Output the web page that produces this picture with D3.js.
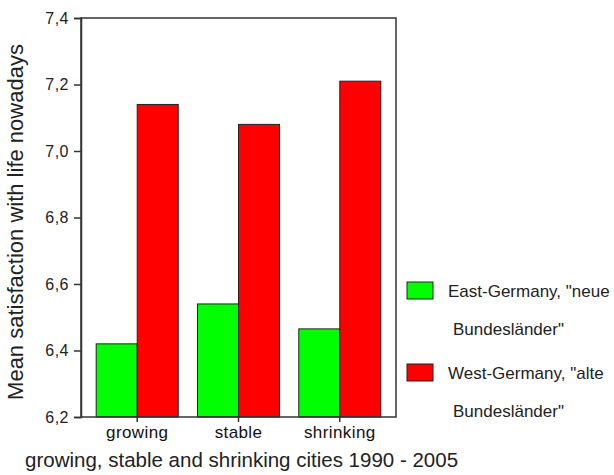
<!DOCTYPE html>
<html><head><meta charset="utf-8">
<script src="https://cdn.jsdelivr.net/npm/d3@7"></script>
<style>body{margin:0;background:#fff;} svg{display:block;font-family:"Liberation Sans",Arial,sans-serif;}</style>
</head><body>
<script>
const categories = ["growing", "stable", "shrinking"];
const seriesNames = ["East-Germany, \"neue Bundesländer\"", "West-Germany, \"alte Bundesländer\""];
const eastValues = [6.42, 6.54, 6.465];
const westValues = [7.14, 7.08, 7.21];
const yTicks = [6.2, 6.4, 6.6, 6.8, 7.0, 7.2, 7.4];
const colors = ["#00ff00", "#ff0000"];

const W = 614, H = 475;
const pLeft = 81, pRight = 396, pTop = 18, pBottom = 417;
const FONT = "'Liberation Sans', Arial, sans-serif";
const svg = d3.select("body").append("svg").attr("width", W).attr("height", H);

const y = d3.scaleLinear().domain([6.2, 7.4]).range([pBottom, pTop]);
const x0 = d3.scaleBand().domain(categories).range([pLeft, pRight]).paddingInner(0.19).paddingOuter(0.15);
const x1 = d3.scaleBand().domain([0, 1]).range([0, x0.bandwidth()]);

const data = categories.map((c, i) => ({cat: c, vals: [eastValues[i], westValues[i]]}));

// bars
const g = svg.append("g");
data.forEach(d => {
  d.vals.forEach((v, j) => {
    g.append("rect")
      .attr("x", x0(d.cat) + x1(j))
      .attr("y", y(v))
      .attr("width", x1.bandwidth())
      .attr("height", y(6.2) - y(v))
      .attr("fill", colors[j])
      .attr("stroke", "#222")
      .attr("stroke-width", 1);
  });
});

// frame
svg.append("rect").attr("x", pLeft).attr("y", pTop).attr("width", pRight - pLeft).attr("height", pBottom - pTop)
  .attr("fill", "none").attr("stroke", "#333").attr("stroke-width", 1.5);

// y axis
const yAxis = d3.axisLeft(y).tickValues(yTicks).tickSize(7).tickPadding(5)
  .tickFormat(d => d3.format(".1f")(d).replace(".", ","));
const ya = svg.append("g").attr("transform", `translate(${pLeft},0)`).call(yAxis);
ya.select(".domain").attr("stroke", "#333").attr("stroke-width", 1.5);
ya.selectAll(".tick line").attr("stroke", "#333").attr("stroke-width", 1.5);
ya.selectAll(".tick text").attr("font-size", 16).attr("letter-spacing", 0.5).attr("fill", "#222").style("font-family", FONT);

// x axis
const xAxis = d3.axisBottom(x0).tickSize(6).tickPadding(3);
const xa = svg.append("g").attr("transform", `translate(0,${pBottom})`).call(xAxis);
xa.select(".domain").remove();
xa.selectAll(".tick line").attr("stroke", "#333").attr("stroke-width", 1.5).attr("y2", 5);
xa.selectAll(".tick text").attr("font-size", 17).attr("letter-spacing", 0.4).attr("fill", "#111").style("font-family", FONT);

// axis titles
svg.append("text").attr("transform", `translate(23,222) rotate(-90)`)
  .attr("text-anchor", "middle").attr("font-size", 22).attr("fill", "#222")
  .text("Mean satisfaction with life nowadays");
svg.append("text").attr("x", 25).attr("y", 467).attr("font-size", 20.5).attr("fill", "#222")
  .text("growing, stable and shrinking cities 1990 - 2005");

// legend
const legY = [282, 364];
seriesNames.forEach((name, j) => {
  const lg = svg.append("g");
  lg.append("rect").attr("x", 407).attr("y", legY[j]).attr("width", 26).attr("height", 17)
    .attr("fill", colors[j]).attr("stroke", "#222").attr("stroke-width", 1);
  const parts = j === 0 ? ["East-Germany, \"neue", "Bundesländer\""] : ["West-Germany, \"alte", "Bundesländer\""];
  lg.append("text").attr("x", 448).attr("y", legY[j] + 15).attr("font-size", 17).attr("fill", "#222").text(parts[0]);
  lg.append("text").attr("x", 453).attr("y", legY[j] + 53).attr("font-size", 17).attr("fill", "#222").text(parts[1]);
});
</script>
</body></html>
